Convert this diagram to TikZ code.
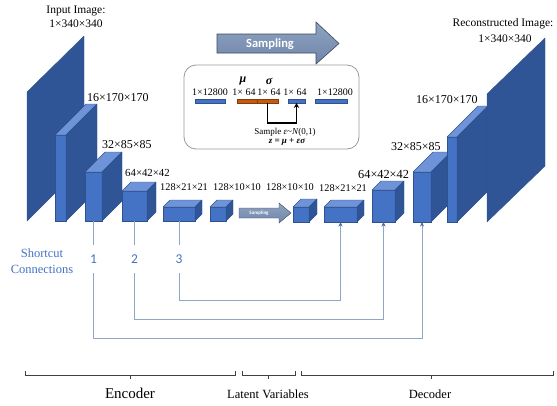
\documentclass[tikz,border=0pt]{standalone}
\usepackage{fontspec}
\setmainfont{Liberation Serif}
\newfontfamily\carlito{Carlito}
\usetikzlibrary{arrows.meta,calc}
\definecolor{frontc}{HTML}{4472C4}
\definecolor{topc}{HTML}{6E93D8}
\definecolor{sidec}{HTML}{2F5597}
\definecolor{edgec}{HTML}{2F528F}
\definecolor{sheetc}{HTML}{2F5597}
\definecolor{arrtop}{HTML}{8FA2C0}
\definecolor{arrbot}{HTML}{7086AA}
\definecolor{arredge}{HTML}{3B4A5E}
\definecolor{orangec}{HTML}{C55A11}
\definecolor{orangee}{HTML}{843C0C}
\definecolor{scline}{HTML}{8FA7C6}
\definecolor{sctip}{HTML}{44699E}
\definecolor{labblue}{HTML}{4472C4}
\definecolor{bracec}{HTML}{404040}
\tikzset{
  frontface/.style={draw=edgec, fill=frontc, line width=0.4pt, inner sep=0pt, outer sep=0pt},
  topface/.style={draw=edgec, fill=topc, line width=0.4pt, line join=round},
  sideface/.style={draw=edgec, fill=sidec, line width=0.4pt, line join=round},
  sheet/.style={draw=edgec, fill=sheetc, line width=0.4pt, line join=round},
  dimlab/.style={inner sep=0pt, anchor=west, font=\fontsize{#1}{#1}\selectfont},
  toplab/.style={inner sep=0pt, font=\fontsize{11.5}{11.5}\selectfont},
  bigarrow/.style={top color=arrtop, bottom color=arrbot, draw=arredge, line width=0.6pt, line join=miter},
  bluebar/.style={draw=edgec, fill=frontc, line width=0.4pt, minimum height=4pt, inner sep=0pt, outer sep=0pt},
  orangebar/.style={draw=orangee, fill=orangec, line width=0.4pt, minimum height=4pt, inner sep=0pt, outer sep=0pt},
  latlab/.style={inner sep=0pt, font=\fontsize{10}{10}\selectfont},
  sc/.style={draw=scline, line width=0.8pt, -{Stealth[length=4.5pt,width=4pt,fill=sctip,color=sctip]}},
  scnum/.style={text=labblue, inner sep=0pt, minimum height=28pt, font=\carlito\fontsize{13.5}{13.5}\selectfont},
  bracket/.style={draw=bracec, line width=0.8pt},
  bracelab/.style={inner sep=0pt, font=\fontsize{#1}{#1}\selectfont},
}
\newcommand{\cubebox}[6]{%
  \node[frontface, minimum width=#4pt, minimum height=#5pt, anchor=south west] (#1) at (#2,#3) {};
  \filldraw[topface] (#1.north west) -- ++(#6,-#6) -- ++(#4,0) -- (#1.north east) -- cycle;
  \filldraw[sideface] (#1.north east) -- ++(#6,-#6) -- ++(0,#5) -- (#1.south east) -- cycle;
}
\begin{document}
\begin{tikzpicture}[x=1pt,y=-1pt]
\useasboundingbox (0,0) rectangle (557,405);

% ---------- encoder ----------
\filldraw[sheet] (27,221) -- (27,92) -- (84,36) -- (84,164) -- cycle;
\cubebox{b2}{55}{221}{11}{86}{31}
\cubebox{b3}{85}{221}{17}{49}{20}
\cubebox{b4}{122}{221}{25}{30}{9}
\cubebox{b5}{163}{221}{32}{14}{7}
\cubebox{b6}{210}{221}{16}{14}{7}

% small sampling arrow
\shadedraw[bigarrow, line width=0.4pt] (239,208) -- (279,208) -- (279,203) -- (291,213) -- (279,223) -- (279,218) -- (239,218) -- cycle;
\node[text=white, inner sep=0pt, font=\carlito\bfseries\fontsize{5}{5}\selectfont] (smallsamp) at (259,213) {Sampling};

% ---------- decoder ----------
\cubebox{b7}{293}{222}{16}{15}{8}
\cubebox{b8}{324}{222}{33}{15}{7}
\cubebox{b9}{372}{222}{23}{32}{9}
\cubebox{b10}{413}{222}{18}{50}{20}
\cubebox{b11}{447}{222}{10}{85}{31}
\filldraw[sheet] (487,222) -- (487,94) -- (545,38) -- (545,166) -- cycle;

% ---------- dimension labels ----------
\node[toplab] (inlab1) at (76,11) {Input Image:};
\node[toplab] (inlab2) at (76,24) {1×340×340};
\node[dimlab=12] (l2) at (87,98) {16×170×170};
\node[dimlab=12] (l3) at (102,145) {32×85×85};
\node[dimlab=10.8] (l4) at (125,173) {64×42×42};
\node[dimlab=10.3] (l5) at (160,187) {128×21×21};
\node[dimlab=10.3] (l6) at (213,187) {128×10×10};
\node[dimlab=10.3] (l7) at (266,187) {128×10×10};
\node[dimlab=10.3] (l8) at (319,188) {128×21×21};
\node[dimlab=12.3] (l9) at (358,174) {64×42×42};
\node[dimlab=12] (l10) at (391,147) {32×85×85};
\node[dimlab=12] (l11) at (416,100) {16×170×170};
\node[toplab] (outlab1) at (503,24) {Reconstructed Image:};
\node[toplab] (outlab2) at (505,39) {1×340×340};

% ---------- big sampling arrow ----------
\shadedraw[bigarrow] (217,34) -- (316,34) -- (316,22) -- (339,43.5) -- (316,64) -- (316,53) -- (217,53) -- cycle;
\node[text=white, inner sep=0pt, font=\carlito\bfseries\fontsize{12.5}{12.5}\selectfont] (bigsamp) at (270,44) {Sampling};

% ---------- latent box ----------
\node[draw=black!40, rounded corners=12pt, line width=0.8pt, minimum width=175pt, minimum height=84pt, inner sep=0pt] (latent) at (271.5,107) {};
\node[inner sep=0pt, font=\bfseries\itshape\fontsize{12}{12}\selectfont] (mu) at (243,81) {μ};
\node[inner sep=0pt, font=\bfseries\itshape\fontsize{12}{12}\selectfont] (sigma) at (269,81) {σ};
\node[latlab] (t1) at (210,92) {1×12800};
\node[latlab] (t2) at (244,92) {1× 64};
\node[latlab] (t3) at (269,92) {1× 64};
\node[latlab] (t4) at (295,92) {1× 64};
\node[latlab] (t5) at (335,92) {1×12800};
\node[bluebar, minimum width=30pt] (bar1) at (210,101) {};
\node[orangebar, minimum width=20pt] (barmu) at (247,101) {};
\node[orangebar, minimum width=21pt] (barsig) at (267.5,101) {};
\node[bluebar, minimum width=17pt] (barz) at (296.5,101) {};
\node[bluebar, minimum width=32pt] (bar4) at (331,101) {};
\draw[line width=1.3pt, -{Stealth[length=5pt,width=5.5pt]}] (barsig.south) -- ++(0,20) -| (barz.south);
\node[inner sep=0pt, font=\fontsize{9}{9}\selectfont] (samp) at (285,132) {Sample \textit{ε}\textasciitilde\textit{N}(0,1)};
\node[inner sep=0pt, font=\bfseries\itshape\fontsize{9}{9}\selectfont] (zeq) at (287,142) {z = μ + εσ};

% ---------- shortcut connections ----------
\node[text=labblue, align=center, inner sep=0pt, font=\fontsize{12.5}{16}\selectfont] (sclab) at (42,261) {Shortcut\\Connections};
\node[scnum] (n1) at ([yshift=-38pt]b3.south) {1};
\node[scnum] (n2) at ([yshift=-38pt]b4.south) {2};
\node[scnum] (n3) at ([yshift=-38pt]b5.south) {3};
\draw[draw=scline, line width=0.8pt] (b3.south) -- (n1.north);
\draw[draw=scline, line width=0.8pt] (b4.south) -- (n2.north);
\draw[draw=scline, line width=0.8pt] (b5.south) -- (n3.north);
\draw[sc] (n1.south) -- ++(0,65) -| (b10.south);
\draw[sc] (n2.south) -- ++(0,46) -| (b9.south);
\draw[sc] (n3.south) -- ++(0,27) -| (b8.south);

% ---------- brackets ----------
\draw[bracket] (25,371) -- (25,375) -- (235,375) -- (235,371);
\draw[bracket] (130,375) -- (130,379);
\draw[bracket] (242,371) -- (242,375) -- (295,375) -- (295,371);
\draw[bracket] (268,375) -- (268,379);
\draw[bracket] (301,371) -- (301,375) -- (553,375) -- (553,371);
\draw[bracket] (431,375) -- (431,379);
\node[bracelab=15] (enc) at (130,393) {Encoder};
\node[bracelab=12.5] (lat) at (268,394) {Latent Variables};
\node[bracelab=12.5] (dec) at (430,394) {Decoder};
\end{tikzpicture}
\end{document}
